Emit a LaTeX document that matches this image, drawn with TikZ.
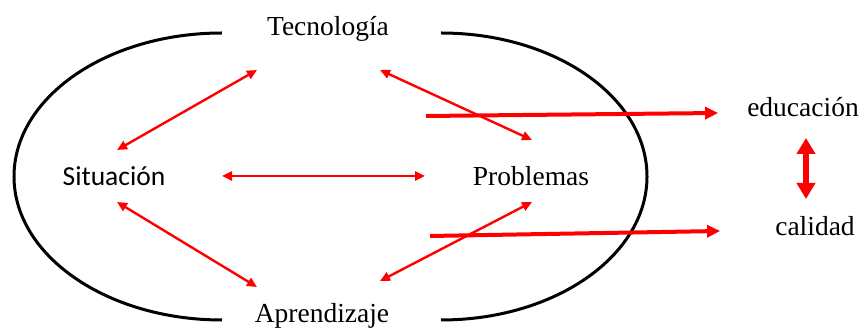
\documentclass[tikz,border=0pt]{standalone}
\usepackage{fontspec}
\setmainfont{Liberation Serif}
\newfontfamily\calibrifont{Carlito}
\usetikzlibrary{arrows.meta}

\begin{document}
\begin{tikzpicture}[x=1pt,y=1pt,
    concepto/.style={inner sep=0pt, anchor=base, font=\fontsize{27.5}{33}\selectfont},
    sinserif/.style={concepto, font=\calibrifont\fontsize{27.5}{33}\selectfont},
    flecha/.style={red, line width=2.4pt, {Triangle[length=10pt,width=9pt]}-{Triangle[length=10pt,width=9pt]}},
    salida/.style={red, line width=4pt, -{Triangle[length=13pt,width=12pt]}},
    doble/.style={red, line width=6pt, {Triangle[length=16pt,width=18pt]}-{Triangle[length=16pt,width=18pt]}}]
  \useasboundingbox (0,0) rectangle (863,331);

  % Ovalo abierto
  \draw[line width=3pt] (222,298) arc[start angle=90, end angle=270, x radius=208, y radius=143.5];
  \draw[line width=3pt] (441,298) arc[start angle=90, end angle=-90, x radius=206, y radius=143.5];

  % Conceptos
  \node[concepto] (tec) at (328,295) {Tecnología};
  \node[sinserif] (sit) at (114,145) {Situación};
  \node[concepto] (prob) at (531,145) {Problemas};
  \node[concepto] (apr) at (322,8) {Aprendizaje};
  \node[concepto] (edu) at (803,214) {educación};
  \node[concepto] (cal) at (815,95) {calidad};

  % Relaciones
  \draw[flecha] ([shift={(-71,-34)}]tec.base) -- ([shift={(3,36)}]sit.base);
  \draw[flecha] ([shift={(52,-34)}]tec.base) -- ([shift={(1,46)}]prob.base);
  \draw[flecha] ([shift={(108,10)}]sit.base) -- ([shift={(-106,10)}]prob.base);
  \draw[flecha] ([shift={(3,-16)}]sit.base) -- ([shift={(-65,36)}]apr.base);
  \draw[flecha] ([shift={(1,-16)}]prob.base) -- ([shift={(58,42)}]apr.base);

  % Salidas
  \coordinate (e0) at (426,215);
  \coordinate (c0) at (430,95);
  \draw[salida] (e0) -- ([shift={(-29,4)}]edu.base west);
  \draw[salida] (c0) -- ([shift={(-55,5)}]cal.base west);
  \draw[doble] ([shift={(3,-21)}]edu.base) -- ([shift={(-9,37)}]cal.base);
\end{tikzpicture}
\end{document}
